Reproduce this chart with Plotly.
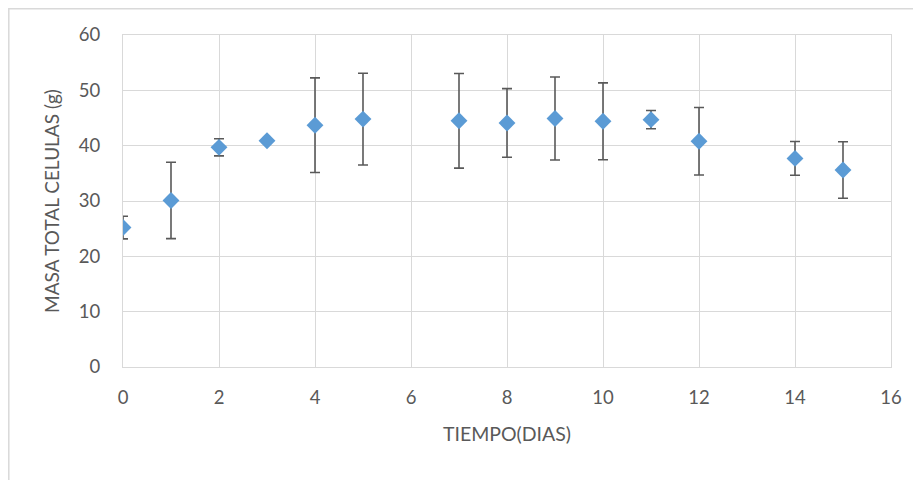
import plotly.graph_objects as go

dias = [0, 1, 2, 3, 4, 5, 7, 8, 9, 10, 11, 12, 14, 15]
masa = [25.2, 30.1, 39.7, 40.9, 43.7, 44.8, 44.5, 44.1, 44.9, 44.4, 44.7, 40.8, 37.7, 35.6]
error = [2.05, 6.9, 1.55, 0.0, 8.55, 8.3, 8.55, 6.2, 7.5, 6.95, 1.65, 6.1, 3.05, 5.1]

x_ticks = [0, 2, 4, 6, 8, 10, 12, 14, 16]
y_ticks = [0, 10, 20, 30, 40, 50, 60]

FONT = "Lato, Liberation Sans, sans-serif"
TXT = "#595959"
GRID = "#d9d9d9"

fig = go.Figure()
fig.add_trace(go.Scatter(
    x=dias, y=masa, mode="markers",
    marker=dict(symbol="diamond", size=13, color="#5b9bd5"),
    error_y=dict(type="data", array=error, visible=True,
                 color="#595959", thickness=1.6, width=5),
    showlegend=False,
))

L, R, T, B = 115, 38, 27, 121
W, H = 921, 480
PW, PH = W - L - R, H - T - B

fig.update_layout(
    width=W, height=H,
    margin=dict(l=L, r=R, t=T, b=B),
    paper_bgcolor="white", plot_bgcolor="white",
    font=dict(family=FONT, size=18, color=TXT),
    xaxis=dict(
        range=[0, 16], tickvals=x_ticks, ticktext=[str(v) for v in x_ticks],
        showgrid=True, gridcolor=GRID, gridwidth=1,
        zeroline=False, showline=True, mirror=True, linecolor=GRID, linewidth=1,
        ticks="outside", ticklen=14, tickcolor="rgba(0,0,0,0)",
        title=dict(text="TIEMPO(DIAS)", font=dict(size=19.5, color=TXT), standoff=20),
        tickfont=dict(size=18.5, color=TXT),
    ),
    yaxis=dict(
        range=[0, 60], tickvals=y_ticks, ticktext=[str(v) for v in y_ticks],
        showgrid=True, gridcolor=GRID, gridwidth=1,
        zeroline=False, showline=True, mirror=True, linecolor=GRID, linewidth=1,
        ticks="outside", ticklen=18, tickcolor="rgba(0,0,0,0)",
        title=dict(text="MASA TOTAL CELULAS (g)", font=dict(size=19, color=TXT), standoff=14),
        tickfont=dict(size=18.5, color=TXT),
    ),
    shapes=[dict(
        type="rect", xref="paper", yref="paper",
        x0=(-L + 0.8) / PW, x1=(W + 10 - L) / PW,
        y0=(-B - 10) / PH, y1=(PH + T - 0.8) / PH,
        line=dict(color=GRID, width=1.5), fillcolor="rgba(0,0,0,0)", layer="below",
    )],
)

fig.write_html("out.html")
